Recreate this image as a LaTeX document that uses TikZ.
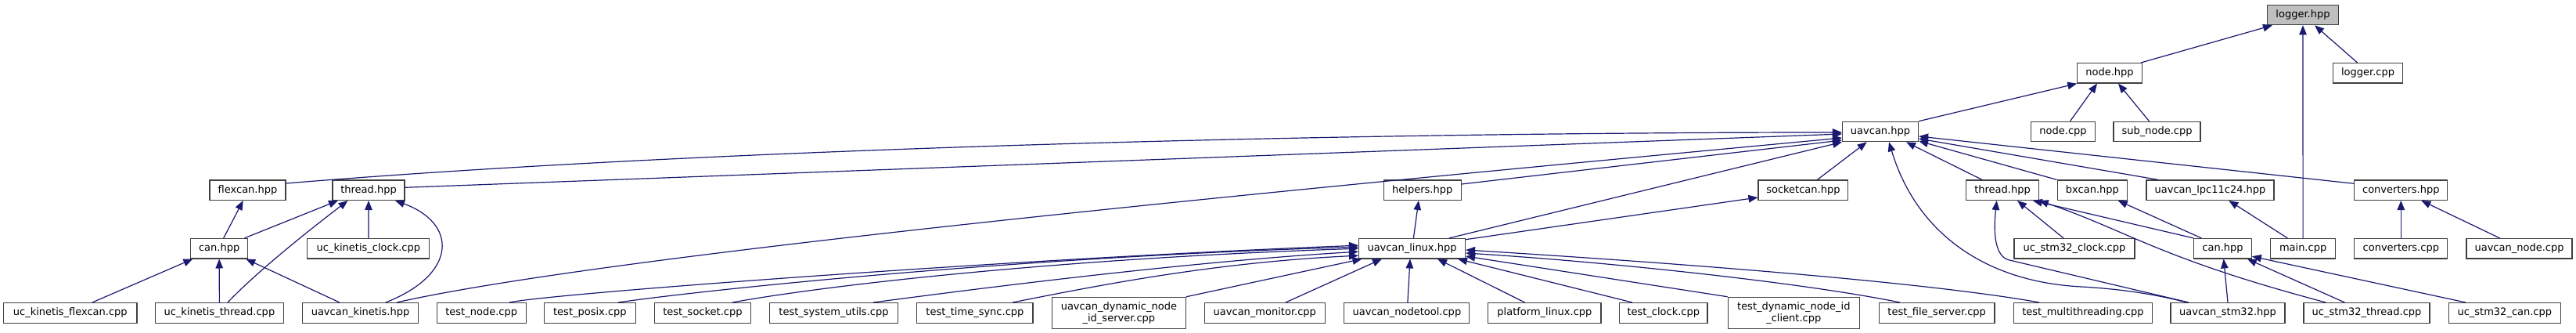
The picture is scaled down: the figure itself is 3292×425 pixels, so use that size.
\documentclass[tikz,border=0pt]{standalone}
\usepackage{fontspec}
\setmainfont{DejaVu Sans}
\usetikzlibrary{arrows.meta}
\definecolor{edgeblue}{HTML}{191970}
\definecolor{boxgrey}{HTML}{404040}
\definecolor{focusgrey}{HTML}{BFBFBF}
\begin{document}
\begin{tikzpicture}[x=1pt,y=-1pt,
  box/.style={draw=boxgrey, line width=1.1pt, fill=white, rectangle, minimum height=25.5pt, inner sep=0pt, font=\fontsize{13}{15}\selectfont, align=center},
  tall/.style={minimum height=40pt},
  edge/.style={draw=edgeblue, line width=1.2pt, {Triangle[length=12pt,width=9.5pt]}-}
]
\useasboundingbox (0,0) rectangle (3292,425);
% row 0
\node[box, fill=focusgrey, minimum width=91.4pt] (logger) at (2943,19) {logger.hpp};
% row 1
\node[box, minimum width=82.5pt] (nodehpp) at (2696,93.3) {node.hpp};
\node[box, minimum width=89.7pt] (loggercpp) at (3026,93.3) {logger.cpp};
% row 2
\node[box, minimum width=97pt] (uavcan) at (2403,168) {uavcan.hpp};
\node[box, minimum width=81.6pt] (nodecpp) at (2636.5,168) {node.cpp};
\node[box, minimum width=111pt] (subnode) at (2756.5,168) {sub\_node.cpp};
% row 3
\node[box, minimum width=97pt] (flexcan) at (316.5,242.7) {flexcan.hpp};
\node[box, minimum width=92pt] (threadk) at (471,242.7) {thread.hpp};
\node[box, minimum width=99pt] (helpers) at (1817.7,242.7) {helpers.hpp};
\node[box, minimum width=114.8pt] (socketcan) at (2304.4,242.7) {socketcan.hpp};
\node[box, minimum width=92.4pt] (threads) at (2559,242.7) {thread.hpp};
\node[box, minimum width=89.7pt] (bxcan) at (2673.9,242.7) {bxcan.hpp};
\node[box, minimum width=163pt] (lpc) at (2824.5,242.7) {uavcan\_lpc11c24.hpp};
\node[box, minimum width=119pt] (converters) at (3068.3,242.7) {converters.hpp};
% row 4
\node[box, minimum width=73.2pt] (cank) at (280.2,317.2) {can.hpp};
\node[box, minimum width=156pt] (ukclock) at (470.9,317.2) {uc\_kinetis\_clock.cpp};
\node[box, minimum width=136pt] (linux) at (1804.5,317.2) {uavcan\_linux.hpp};
\node[box, minimum width=154pt] (ucsclock) at (2651,317.2) {uc\_stm32\_clock.cpp};
\node[box, minimum width=73.5pt] (cans) at (2840.5,317.2) {can.hpp};
\node[box, minimum width=82.8pt] (maincpp) at (2943.1,317.2) {main.cpp};
\node[box, minimum width=119pt] (convcpp) at (3068.3,317.2) {converters.cpp};
\node[box, minimum width=135pt] (uavnode) at (3219.5,317.2) {uavcan\_node.cpp};
% row 5
\node[box, minimum width=170.4pt] (ukflexcan) at (89.8,399.3) {uc\_kinetis\_flexcan.cpp};
\node[box, minimum width=164.3pt] (ukthread) at (280.4,399.3) {uc\_kinetis\_thread.cpp};
\node[box, minimum width=148.2pt] (uavkinetis) at (460.5,399.3) {uavcan\_kinetis.hpp};
\node[box, minimum width=114pt] (testnode) at (615.2,399.3) {test\_node.cpp};
\node[box, minimum width=116.4pt] (testposix) at (753.9,399.3) {test\_posix.cpp};
\node[box, minimum width=123pt] (testsocket) at (897.9,399.3) {test\_socket.cpp};
\node[box, minimum width=164.7pt] (testsysutils) at (1065.5,399.3) {test\_system\_utils.cpp};
\node[box, minimum width=148.2pt] (testtimesync) at (1245.9,399.3) {test\_time\_sync.cpp};
\node[box, tall, minimum width=171pt] (dynserver) at (1429.9,399.3) {uavcan\_dynamic\_node\\\_id\_server.cpp};
\node[box, minimum width=154pt] (monitor) at (1616.3,399.3) {uavcan\_monitor.cpp};
\node[box, minimum width=160pt] (nodetool) at (1797.9,399.3) {uavcan\_nodetool.cpp};
\node[box, minimum width=144.2pt] (platlinux) at (1973.9,399.3) {platform\_linux.cpp};
\node[box, minimum width=112.4pt] (testclock) at (2125.8,399.3) {test\_clock.cpp};
\node[box, tall, minimum width=168.2pt] (dynclient) at (2292.3,399.3) {test\_dynamic\_node\_id\\\_client.cpp};
\node[box, minimum width=147.5pt] (fileserver) at (2475.2,399.3) {test\_file\_server.cpp};
\node[box, minimum width=177.7pt] (multithread) at (2661.9,399.3) {test\_multithreading.cpp};
\node[box, minimum width=146pt] (uavstm32) at (2847,399.3) {uavcan\_stm32.hpp};
\node[box, minimum width=161pt] (ucsthread) at (3024.5,399.3) {uc\_stm32\_thread.cpp};
\node[box, minimum width=143pt] (ucscan) at (3200.8,399.3) {uc\_stm32\_can.cpp};

% top part
\draw[edge] ([xshift=-39pt]logger.south) -- ([xshift=40pt]nodehpp.north);
\draw[edge] (logger.south) -- (maincpp.north);
\draw[edge] ([xshift=15pt]logger.south) -- ([xshift=-13.4pt]loggercpp.north);
\draw[edge] (nodehpp.south west) -- (uavcan.north east);
\draw[edge] ([xshift=-16pt]nodehpp.south) -- ([xshift=9pt]nodecpp.north);
\draw[edge] ([xshift=11pt]nodehpp.south) -- ([xshift=-10pt]subnode.north);

% into uavcan.hpp
\draw[edge] ([yshift=-1pt]uavcan.west) .. controls (1700,169) and (900,190) .. ([yshift=8.7pt]flexcan.east);
\draw[edge] ([yshift=-3pt]uavcan.west) -- ([yshift=3.4pt]threadk.east);
\draw[edge] ([yshift=-8pt]uavcan.west) .. controls (1800,228) and (800,320) .. ([xshift=46.5pt]uavkinetis.north);
\draw[edge] ([yshift=-11pt]uavcan.west) -- ([yshift=7.7pt]helpers.east);
\draw[edge] (uavcan.south west) -- ([xshift=47.5pt]linux.north);
\draw[edge] ([xshift=-17.3pt]uavcan.south) -- ([xshift=18pt]socketcan.north);
\draw[edge] ([xshift=11pt]uavcan.south) .. controls (2450,300) and (2540,360) .. (2660,366) .. controls (2730,370) and (2770,380) .. ([xshift=-52pt]uavstm32.north);
\draw[edge] ([xshift=33pt]uavcan.south) -- ([xshift=-26pt]threads.north);
\draw[edge] ([yshift=-12pt]uavcan.east) -- (bxcan.north west);
\draw[edge] ([yshift=-9pt]uavcan.east) -- ([xshift=-66.5pt]lpc.north);
\draw[edge] ([yshift=-6pt]uavcan.east) -- ([yshift=8.4pt]converters.west);

% kinetis
\draw[edge] ([xshift=-5.8pt]flexcan.south) -- ([xshift=5.5pt]cank.north);
\draw[edge] ([xshift=-39pt]threadk.south) -- ([xshift=32.3pt]cank.north);
\draw[edge] ([xshift=-26.4pt]threadk.south) .. controls (400,290) and (330,345) .. ([xshift=10.6pt]ukthread.north);
\draw[edge] (threadk.south) -- (ukclock.north);
\draw[edge] ([xshift=34pt]threadk.south) .. controls (585,285) and (585,350) .. ([xshift=32.4pt]uavkinetis.north);
\draw[edge] ([xshift=-33.8pt]cank.south) -- ([xshift=28.1pt]ukflexcan.north);
\draw[edge] (cank.south) -- (ukthread.north);
\draw[edge] ([xshift=34pt]cank.south) -- ([xshift=-26.6pt]uavkinetis.north);

% linux
\draw[edge] ([xshift=-4.8pt]helpers.south) -- ([xshift=1.9pt]linux.north);
\draw[edge] ([yshift=-9.3pt]socketcan.west) -- ([yshift=11.5pt]linux.east);
\draw[edge] ([yshift=4pt]linux.west) .. controls (1300,330) and (700,375) .. ([xshift=35.8pt]testnode.north);
\draw[edge] ([yshift=2pt]linux.west) .. controls (1300,328) and (900,370) .. ([xshift=36.1pt]testposix.north);
\draw[edge] (linux.west) .. controls (1350,330) and (1050,365) .. ([xshift=38.1pt]testsocket.north);
\draw[edge] ([yshift=-4pt]linux.west) .. controls (1500,335) and (1200,375) .. ([xshift=50.5pt]testsysutils.north);
\draw[edge] ([yshift=-9pt]linux.west) .. controls (1550,335) and (1400,365) .. ([xshift=48.1pt]testtimesync.north);
\draw[edge] ([xshift=4.5pt]linux.south west) -- (dynserver.north east);
\draw[edge] ([xshift=-38.5pt]linux.south) -- ([xshift=26.7pt]monitor.north);
\draw[edge] ([xshift=-2.5pt]linux.south) -- ([xshift=1pt]nodetool.north);
\draw[edge] ([xshift=32.5pt]linux.south) -- ([xshift=-25.3pt]platlinux.north);
\draw[edge] ([xshift=58.5pt]linux.south) -- ([xshift=-39.8pt]testclock.north);
\draw[edge] ([yshift=-9.8pt]linux.east) -- (dynclient.north west);
\draw[edge] ([yshift=-5.8pt]linux.east) .. controls (2050,334) and (2300,360) .. ([xshift=-47.2pt]fileserver.north);
\draw[edge] ([yshift=-1.8pt]linux.east) .. controls (2100,333) and (2450,358) .. ([xshift=-55.9pt]multithread.north);

% stm32
\draw[edge] ([xshift=19pt]threads.south) -- ([xshift=-14pt]ucsclock.north);
\draw[edge] ([xshift=-8pt]threads.south east) -- (cans.north west);
\draw[edge] ([xshift=-7.3pt]threads.south) .. controls (2547,300) and (2550,328) .. (2568,332) -- ([xshift=-50pt]uavstm32.north);
\draw[edge] (threads.south east) .. controls (2720,295) and (2760,330) .. ([xshift=-52.2pt]ucsthread.north);
\draw[edge] ([xshift=32.8pt]bxcan.south) -- ([xshift=-27.2pt]cans.north);
\draw[edge] ([xshift=23.8pt]lpc.south) -- ([xshift=-19.8pt]maincpp.north);
\draw[edge] (converters.south) -- (convcpp.north);
\draw[edge] ([xshift=26pt]converters.south) -- ([xshift=-25pt]uavnode.north);
\draw[edge] ([xshift=1.2pt]cans.south) -- (uavstm32.north);
\draw[edge] ([xshift=31.3pt]cans.south) -- ([xshift=-28.2pt]ucsthread.north);
\draw[edge] ([yshift=-10pt]cans.east) -- ([xshift=-49.8pt]ucscan.north);
\end{tikzpicture}
\end{document}
